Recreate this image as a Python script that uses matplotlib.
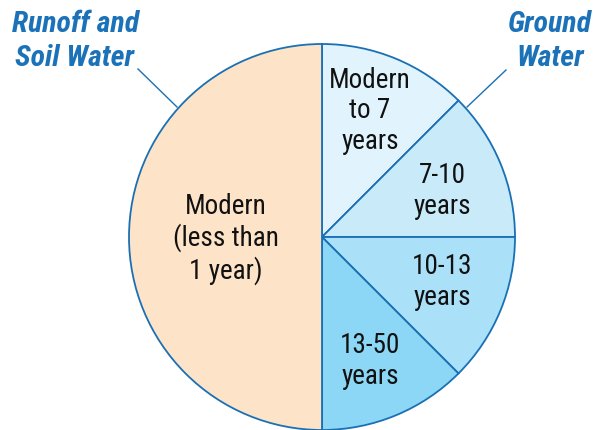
import matplotlib
matplotlib.use("Agg")
import matplotlib.pyplot as plt

# Data
categories = ["Modern\nto 7\nyears", "7-10\nyears", "10-13\nyears", "13-50\nyears",
              "Modern\n(less than\n1 year)"]
values = [12.5, 12.5, 12.5, 12.5, 50]
colors = ["#E1F3FC", "#C8EAF9", "#AAE0F8", "#8CD7F5", "#FDE4C9"]
group_labels = ["Runoff and\nSoil Water", "Ground\nWater"]

plt.rcParams['font.family'] = ['Roboto Condensed', 'DejaVu Sans']

W, H = 595, 431
fig = plt.figure(figsize=(W / 100, H / 100), dpi=100)
ax = fig.add_axes([0, 0, 1, 1])

def P(x, y):
    """pixel position (from top-left) -> data coords"""
    return x, H - y

cx, cy, r = 322, 238, 193
edge = "#1A70B5"
ax.pie(values, colors=colors, startangle=90, counterclock=False,
       center=P(cx, cy), radius=r,
       wedgeprops=dict(edgecolor=edge, linewidth=1.3))
ax.set_xlim(0, W)
ax.set_ylim(0, H)
ax.set_aspect('equal')
ax.axis('off')

# Slice labels (layout positions)
label_pos = [(370, 111), (442, 191), (442, 282), (370, 361), (226, 239)]
for lab, (x, y) in zip(categories, label_pos):
    ax.text(*P(x, y), lab, ha='center', va='center', fontsize=19.5, color='#111111',
            linespacing=1.16)

title_color = "#1B72B8"
ax.text(*P(75, 41), group_labels[0], ha='center', va='center', fontsize=21.5,
        fontweight='bold', fontstyle='italic', color=title_color, linespacing=1.3)
ax.text(*P(550, 41), group_labels[1], ha='center', va='center', fontsize=21.5,
        fontweight='bold', fontstyle='italic', color=title_color, linespacing=1.3)

# Leader lines
ax.plot(*zip(P(138, 70), P(177, 108)), color=edge, lw=1.0)
ax.plot(*zip(P(506, 71), P(467, 108)), color=edge, lw=1.0)

fig.savefig("out.png", dpi=100)
